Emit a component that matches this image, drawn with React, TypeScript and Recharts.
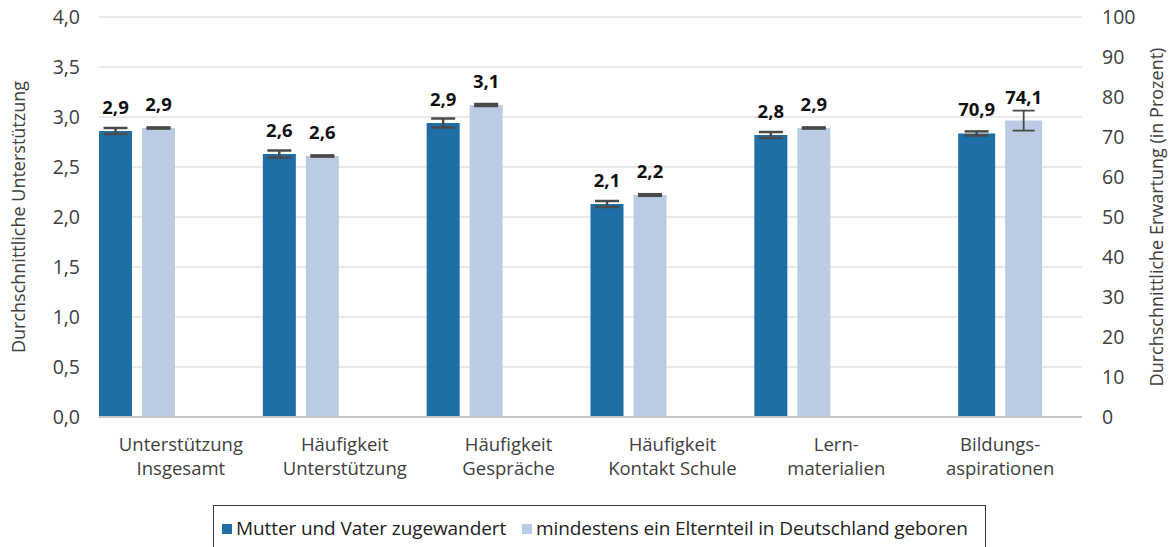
import React from 'react'
import { BarChart, Bar, XAxis, YAxis, CartesianGrid, ErrorBar, LabelList } from 'recharts'

const categories = [
  'Unterstützung|Insgesamt',
  'Häufigkeit|Unterstützung',
  'Häufigkeit|Gespräche',
  'Häufigkeit|Kontakt Schule',
  'Lern-|materialien',
  'Bildungs-|aspirationen'
]

// left axis (Unterstützung), first five categories
const zugewandert = [2.86, 2.63, 2.94, 2.13, 2.82, null]
const zugewandertErr = [0.03, 0.035, 0.045, 0.03, 0.03, null]
const geboren = [2.89, 2.61, 3.12, 2.22, 2.89, null]
const geborenErr = [0.006, 0.006, 0.01, 0.008, 0.006, null]

// right axis (Erwartung in %), last category only
const zugewandertPct = [null, null, null, null, null, 70.9]
const zugewandertPctErr = [null, null, null, null, null, 0.5]
const geborenPct = [null, null, null, null, null, 74.1]
const geborenPctErr = [null, null, null, null, null, 2.5]

const leftTicks = [0, 0.5, 1, 1.5, 2, 2.5, 3, 3.5, 4]
const rightTicks = [0, 10, 20, 30, 40, 50, 60, 70, 80, 90, 100]

const DARK = '#1F6FA6'
const LIGHT = '#BACBE3'
const ERR = '#4a4a4a'

const data = categories.map((name, i) => ({
  name,
  a1: zugewandert[i],
  a1Err: zugewandertErr[i],
  a2: geboren[i],
  a2Err: geborenErr[i],
  b1: zugewandertPct[i],
  b1Err: zugewandertPctErr[i],
  b2: geborenPct[i],
  b2Err: geborenPctErr[i]
}))

const fmt = (v: number) => v.toFixed(1).replace('.', ',')

function CatTick(props: any) {
  const { x, y, payload } = props
  const [l1, l2] = String(payload.value).split('|')
  return (
    <text x={x} y={y} textAnchor="middle" fill="#404040" fontSize={18.5}>
      <tspan x={x} dy={34}>{l1}</tspan>
      <tspan x={x} dy={24}>{l2}</tspan>
    </text>
  )
}

function ValueLabel(props: any) {
  const { x, y, width, value } = props
  if (value === null || value === undefined) return null
  return (
    <text x={x + width / 2} y={y - 17} textAnchor="middle" fontSize={18.5} fontWeight="bold" fill="#111">
      {fmt(value)}
    </text>
  )
}

export default function App() {
  return (
    <div style={{ position: 'absolute', left: 0, top: 0, width: 1171, height: 547, background: '#fff', fontFamily: '"Open Sans", sans-serif', overflow: 'hidden' }}>
      <BarChart
        width={1171}
        height={547}
        data={data}
        margin={{ top: 17, right: 0, bottom: 68, left: 0 }}
        barCategoryGap={0}
        barGap={10}
      >
        <CartesianGrid vertical={false} stroke="#e3e3e3" strokeWidth={1.5} yAxisId="left" xAxisId="a" />
        <XAxis xAxisId="a" dataKey="name" height={62} tickLine={false} tickSize={0} tickMargin={0}
          axisLine={{ stroke: '#c6c6c6', strokeWidth: 2 }} tick={<CatTick />} interval={0} />
        <XAxis xAxisId="b" dataKey="name" hide />
        <YAxis yAxisId="left" domain={[0, 4]} ticks={leftTicks} width={99} axisLine={false} tickLine={false}
          tickSize={0} tickMargin={19} tickFormatter={fmt} tick={{ fill: '#404040', fontSize: 19.5 }}
          label={{ value: 'Durchschnittliche Unterstützung', angle: -90, position: 'center', dx: -31, fill: '#404040', fontSize: 18 }} />
        <YAxis yAxisId="right" orientation="right" domain={[0, 100]} ticks={rightTicks} width={89} axisLine={false}
          tickLine={false} tickSize={0} tickMargin={20} tick={{ fill: '#404040', fontSize: 19.5, textAnchor: 'start' }}
          label={{ value: 'Durchschnittliche Erwartung (in Prozent)', angle: -90, position: 'center', dx: 30, fill: '#404040', fontSize: 18 }} />

        <Bar xAxisId="a" yAxisId="left" dataKey="a1" fill={DARK} isAnimationActive={false}>
          <ErrorBar dataKey="a1Err" width={12} stroke={ERR} strokeWidth={2.5} />
          <LabelList dataKey="a1" content={<ValueLabel />} />
        </Bar>
        <Bar xAxisId="a" yAxisId="left" dataKey="a2" fill={LIGHT} isAnimationActive={false}>
          <ErrorBar dataKey="a2Err" width={12} stroke={ERR} strokeWidth={2.5} />
          <LabelList dataKey="a2" content={<ValueLabel />} />
        </Bar>
        <Bar xAxisId="a" yAxisId="left" dataKey="padA" fill="none" isAnimationActive={false} />
        <Bar xAxisId="a" yAxisId="left" dataKey="padB" fill="none" isAnimationActive={false} />

        <Bar xAxisId="b" yAxisId="right" dataKey="b1" fill={DARK} barSize={37} isAnimationActive={false}>
          <ErrorBar dataKey="b1Err" width={12} stroke={ERR} strokeWidth={2.5} />
          <LabelList dataKey="b1" content={<ValueLabel />} />
        </Bar>
        <Bar xAxisId="b" yAxisId="right" dataKey="b2" fill={LIGHT} barSize={37} isAnimationActive={false}>
          <ErrorBar dataKey="b2Err" width={11} stroke={ERR} strokeWidth={1.8} />
          <LabelList dataKey="b2" content={<ValueLabel />} />
        </Bar>
      </BarChart>

      <div style={{ position: 'absolute', left: 213, top: 505, width: 773, height: 60, border: '1px solid #3a3a3a', boxSizing: 'border-box',
        display: 'flex', alignItems: 'flex-start', paddingTop: 9, paddingLeft: 8, fontSize: 19, color: '#222', letterSpacing: -0.1, whiteSpace: 'nowrap' }}>
        <span style={{ display: 'inline-block', width: 10, height: 10, background: DARK, marginTop: 9, marginRight: 4 }} />
        <span>Mutter und Vater zugewandert</span>
        <span style={{ display: 'inline-block', width: 10, height: 10, background: LIGHT, marginTop: 9, marginLeft: 16, marginRight: 4 }} />
        <span>mindestens ein Elternteil in Deutschland geboren</span>
      </div>
    </div>
  )
}
